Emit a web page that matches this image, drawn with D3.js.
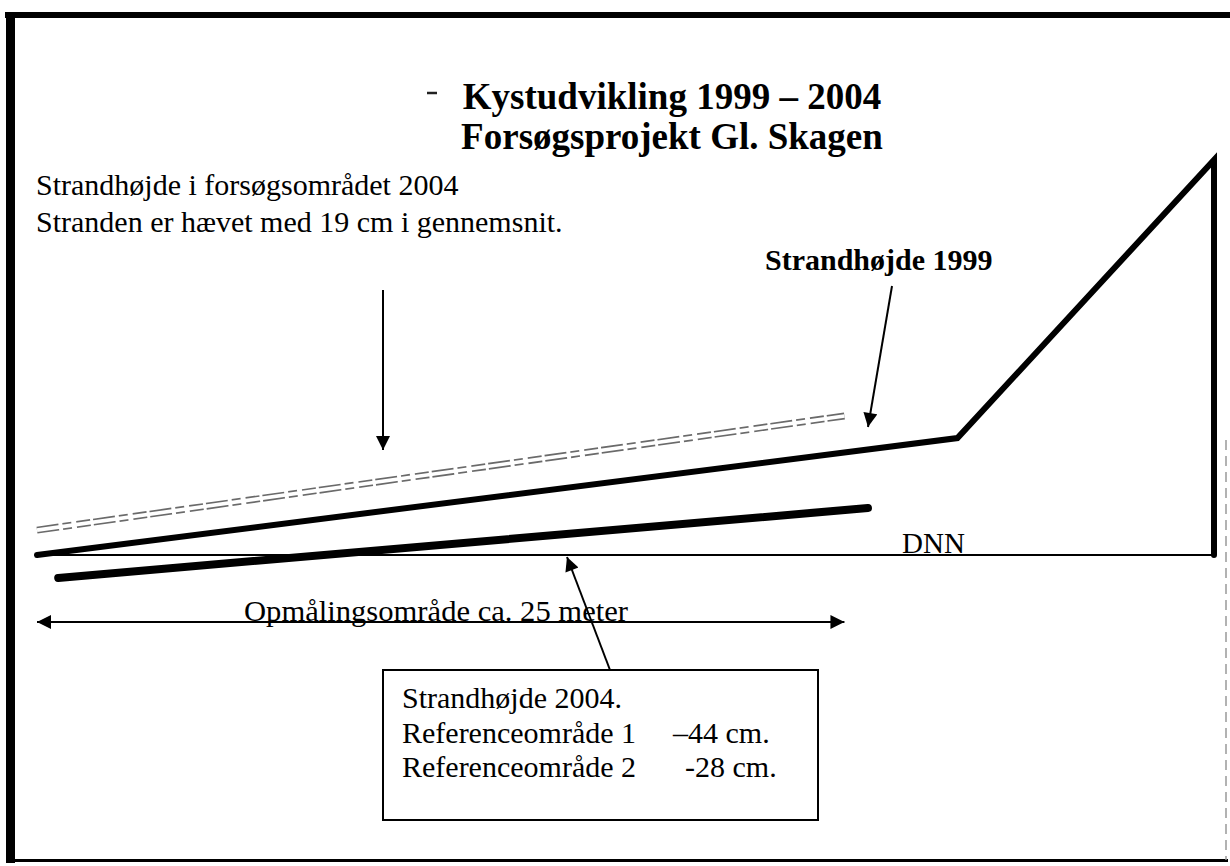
<!DOCTYPE html>
<html>
<head>
<meta charset="utf-8">
<script src="https://cdn.jsdelivr.net/npm/d3@7"></script>
<style>
  html, body { margin: 0; padding: 0; background: #fff; }
  svg { display: block; }
  text { font-family: "Liberation Serif", "Times New Roman", serif; fill: #000; }
</style>
</head>
<body>
<svg id="chart" width="1230" height="866"></svg>
<script>
// ---- data (schematic profile; x = distance along profile, y = height above DNN, arbitrary units) ----
const profile1999   = [[0, 0], [78.2, 29.6], [100, 100], [100, 0]];
const trial2004     = [[0, 6.3], [68.6, 35.2]];
const reference2004 = [[1.8, -5.8], [70.6, 11.9]];
const dnnLine       = [[0, 0], [100, 0]];
const surveyRange   = [0, 68.6];

const titleLines  = ["Kystudvikling 1999 – 2004", "Forsøgsprojekt Gl. Skagen"];
const trialNote   = ["Strandhøjde i forsøgsområdet 2004", "Stranden er hævet med 19 cm i gennemsnit."];
const label1999   = "Strandhøjde 1999";
const dnnLabel    = "DNN";
const surveyLabel = "Opmålingsområde ca. 25 meter";
const boxHeading  = "Strandhøjde 2004.";
const refAreas    = ["Referenceområde 1", "Referenceområde 2"];
const refValues   = ["–44 cm.", "-28 cm."];

// ---- setup ----
const svg = d3.select("#chart");
const x = d3.scaleLinear().domain([0, 100]).range([37, 1214]);
const y = d3.scaleLinear().domain([0, 100]).range([555, 160]);
const line = d3.line().x(d => x(d[0])).y(d => y(d[1]));

const defs = svg.append("defs");
defs.append("marker").attr("id", "head").attr("viewBox", "0 0 10 10")
  .attr("refX", 10).attr("refY", 5).attr("markerUnits", "userSpaceOnUse")
  .attr("markerWidth", 16).attr("markerHeight", 14).attr("orient", "auto-start-reverse")
  .append("path").attr("d", "M0,0 L10,5 L0,10 Z").attr("fill", "#000");

// ---- frame ----
svg.append("rect").attr("x", 5).attr("y", 12).attr("width", 1225).attr("height", 6).attr("fill", "#000");
svg.append("rect").attr("x", 6).attr("y", 12).attr("width", 9).attr("height", 851).attr("fill", "#000");
svg.append("rect").attr("x", 6).attr("y", 859).attr("width", 1222).attr("height", 3).attr("fill", "#000");
svg.append("line").attr("x1", 1226).attr("x2", 1226).attr("y1", 440).attr("y2", 860)
  .attr("stroke", "#999").attr("stroke-width", 1.5).attr("stroke-dasharray", "10 6");

// ---- title ----
svg.append("line").attr("x1", 427).attr("x2", 437).attr("y1", 93).attr("y2", 93)
  .attr("stroke", "#222").attr("stroke-width", 2.5);
svg.selectAll("text.title").data(titleLines).join("text").attr("class", "title")
  .attr("x", 672).attr("y", (d, i) => 109 + i * 40)
  .attr("text-anchor", "middle").attr("font-size", 37).attr("font-weight", "bold")
  .text(d => d);

// ---- profiles ----
svg.append("path").datum(dnnLine).attr("d", line).attr("fill", "none")
  .attr("stroke", "#000").attr("stroke-width", 2);

// trial 2004 (hollow, broken band)
svg.append("path").datum(trial2004).attr("d", line).attr("fill", "none")
  .attr("stroke", "#6a6a6a").attr("stroke-width", 7).attr("stroke-dasharray", "22 4 9 5 14 3");
svg.append("path").datum(trial2004).attr("d", line).attr("fill", "none")
  .attr("stroke", "#fff").attr("stroke-width", 3.6);

svg.append("path").datum(profile1999).attr("d", line).attr("fill", "none")
  .attr("stroke", "#000").attr("stroke-width", 6).attr("stroke-linejoin", "miter").attr("stroke-linecap", "round");

svg.append("path").datum(reference2004).attr("d", line).attr("fill", "none")
  .attr("stroke", "#000").attr("stroke-width", 8).attr("stroke-linecap", "round");

// ---- annotations ----
svg.selectAll("text.note").data(trialNote).join("text").attr("class", "note")
  .attr("x", 36).attr("y", (d, i) => 195 + i * 37).attr("font-size", 30)
  .text(d => d);

svg.append("line").attr("x1", 383).attr("y1", 290).attr("x2", 383).attr("y2", 450)
  .attr("stroke", "#000").attr("stroke-width", 2).attr("marker-end", "url(#head)");

svg.append("text").attr("x", 765).attr("y", 270).attr("font-size", 30).attr("font-weight", "bold").text(label1999);
svg.append("line").attr("x1", 892).attr("y1", 286).attr("x2", 868).attr("y2", 427)
  .attr("stroke", "#000").attr("stroke-width", 2).attr("marker-end", "url(#head)");

svg.append("text").attr("x", 902).attr("y", 553).attr("font-size", 29).text(dnnLabel);

// survey range double arrow
svg.append("line").attr("x1", x(surveyRange[0])).attr("x2", x(surveyRange[1]))
  .attr("y1", 622).attr("y2", 622).attr("stroke", "#000").attr("stroke-width", 2)
  .attr("marker-start", "url(#head)").attr("marker-end", "url(#head)");
svg.append("text").attr("x", 244).attr("y", 621).attr("font-size", 30)
  .attr("textLength", 384).attr("lengthAdjust", "spacingAndGlyphs").text(surveyLabel);

// 2004 box
svg.append("line").attr("x1", 610).attr("y1", 670).attr("x2", 567).attr("y2", 557)
  .attr("stroke", "#000").attr("stroke-width", 2).attr("marker-end", "url(#head)");
svg.append("rect").attr("x", 383).attr("y", 670).attr("width", 435).attr("height", 150)
  .attr("fill", "#fff").attr("stroke", "#000").attr("stroke-width", 2);
svg.append("text").attr("x", 402).attr("y", 708).attr("font-size", 30).text(boxHeading);
svg.selectAll("text.area").data(refAreas).join("text").attr("class", "area")
  .attr("x", 402).attr("y", (d, i) => 743 + i * 34).attr("font-size", 30).text(d => d);
svg.selectAll("text.val").data(refValues).join("text").attr("class", "val")
  .attr("x", (d, i) => i === 0 ? 673 : 685).attr("y", (d, i) => 743 + i * 34).attr("font-size", 30).text(d => d);
</script>
</body>
</html>
